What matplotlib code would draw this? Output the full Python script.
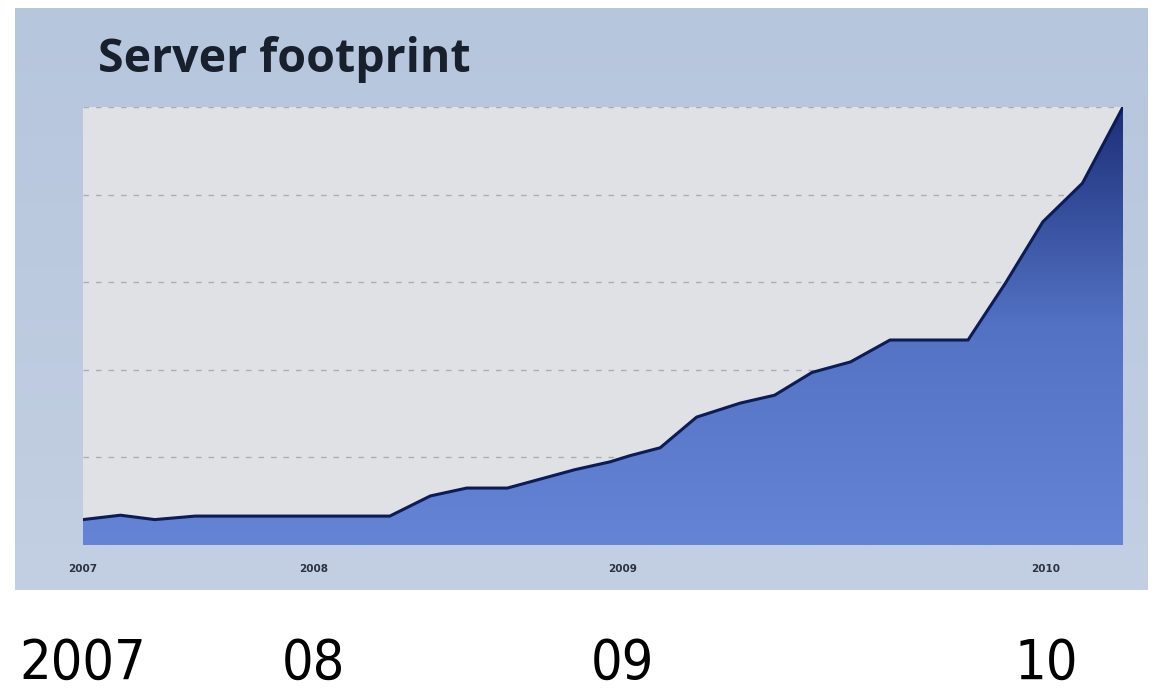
import numpy as np
import matplotlib.pyplot as plt
from matplotlib.colors import LinearSegmentedColormap
from matplotlib.patches import Polygon
from matplotlib import transforms

# server count over time (position along the timeline, relative size)
period = [0, 3.6, 6.9, 10.8, 15.1, 29.5, 33.4, 36.9, 40.8, 43.9, 47.3, 50.7,
          52.6, 55.5, 59.0, 63.2, 66.5, 70.1, 73.8, 77.6, 85.1, 88.7, 92.3,
          96.1, 100]
servers = [0.29, 0.34, 0.29, 0.33, 0.33, 0.33, 0.56, 0.65, 0.65, 0.75, 0.86,
           0.95, 1.02, 1.11, 1.46, 1.62, 1.71, 1.97, 2.09, 2.34, 2.34, 2.99,
           3.69, 4.13, 5.0]

year_pos = [0, 22.2, 51.9, 92.6]
year_labels = ["2007", "2008", "2009", "2010"]
big_labels = ["2007", "08", "09", "10"]

fig = plt.figure(figsize=(11.63, 6.91), dpi=100)
fig.patch.set_facecolor("white")

# slide panel behind the chart
bg = fig.add_axes([15 / 1163, 101 / 691, 1133 / 1163, 582 / 691])
bg.set_axis_off()
panel_cmap = LinearSegmentedColormap.from_list("panel", ["#c3cfe2", "#b6c6dd"])
bg.imshow(np.linspace(0, 1, 256).reshape(-1, 1), cmap=panel_cmap,
          aspect="auto", origin="lower", extent=[0, 1, 0, 1])
bg.set_xlim(0, 1)
bg.set_ylim(0, 1)

fig.text(98 / 1163, 1 - 72 / 691, "Server footprint", fontsize=33.5,
         fontweight="bold", family="Open Sans", color="#18202e",
         va="baseline", ha="left")

ax = fig.add_axes([83 / 1163, 146 / 691, 1040 / 1163, 438 / 691])
ax.set_facecolor("#dfe1e5")
for s in ax.spines.values():
    s.set_visible(False)
ax.set_xlim(0, 100)
ax.set_ylim(0, 5)
ax.set_yticks([1, 2, 3, 4, 5])
ax.set_yticklabels([])
ax.tick_params(axis="y", length=0)
ax.grid(axis="y", color="#a9aeb6", linestyle=(0, (4, 5)), linewidth=1.0, zorder=1)
ax.set_axisbelow(True)

# gradient fill under the line
verts = np.column_stack([np.r_[period, period[-1], period[0]],
                         np.r_[servers, 0, 0]])
area = Polygon(verts, closed=True, facecolor="none", edgecolor="none")
ax.add_patch(area)
fill_cmap = LinearSegmentedColormap.from_list("fill", ["#6584d6", "#5372c4", "#1c2f78"])
im = ax.imshow(np.linspace(0, 1, 256).reshape(-1, 1), cmap=fill_cmap,
               aspect="auto", origin="lower", extent=[0, 100, 0, 5], zorder=2)
im.set_clip_path(area)
ax.plot(period, servers, color="#0e1c55", linewidth=2.2, zorder=3,
        solid_joinstyle="round")

ax.set_xticks(year_pos)
ax.set_xticklabels(year_labels, fontsize=7.5, fontweight="bold",
                   color="#2b3342")
ax.tick_params(axis="x", length=0, pad=14)

# large year labels under the panel
trans = transforms.blended_transform_factory(ax.transData, fig.transFigure)
for p, lab in zip(year_pos, big_labels):
    fig.text(p, 12 / 691, lab, transform=trans, fontsize=40,
             family="DejaVu Sans", fontstretch="condensed",
             color="black", ha="center", va="baseline")

fig.savefig("out.png", dpi=100)
